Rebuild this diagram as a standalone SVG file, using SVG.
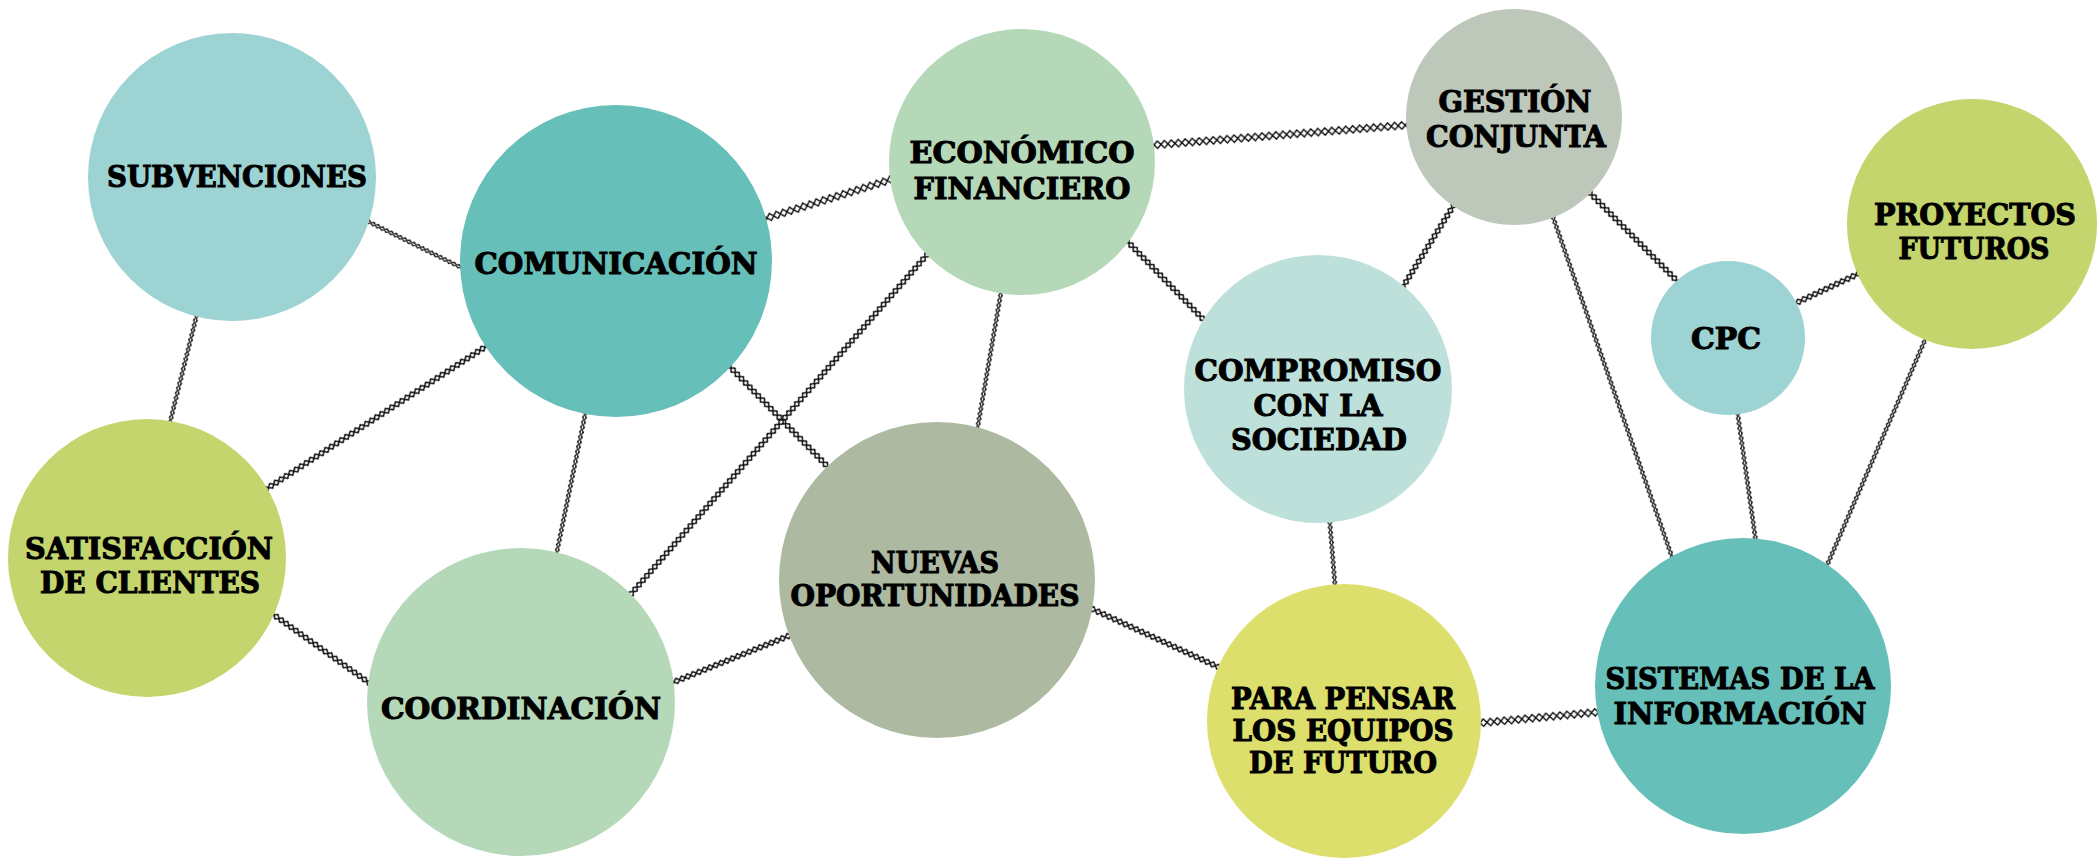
<svg xmlns="http://www.w3.org/2000/svg" width="2098" height="859" viewBox="0 0 2098 859">
<style>
.lbl{font-family:"DejaVu Serif","Liberation Serif",serif;font-weight:bold;font-size:30px;fill:#000;stroke:#000;stroke-width:1.1px;text-anchor:middle}
.c1{fill:#9dd3d2}.c2{fill:#67bfb9}.c3{fill:#b5d9b8}.c4{fill:#bdc8bb}.c5{fill:#c3d56c}.c6{fill:#bde1da}.c7{fill:#aeb9a1}.c8{fill:#dcdf6c}
</style>
<defs>
<pattern id="chS" patternUnits="userSpaceOnUse" x="0" y="-2.5" width="5" height="5"><path d="M0,2.5 L2.5,0.6 L5,2.5 L2.5,4.4 Z" fill="#fff" stroke="#000" stroke-width="1.2"/></pattern>
<pattern id="chM" patternUnits="userSpaceOnUse" x="0" y="-3.5" width="6" height="7"><path d="M0,3.5 L3,0.7 L6,3.5 L3,6.3 Z" fill="#fff" stroke="#000" stroke-width="1.3"/></pattern>
<pattern id="chL" patternUnits="userSpaceOnUse" x="0" y="-4.5" width="7" height="9"><path d="M0,4.5 L3.5,0.8 L7,4.5 L3.5,8.2 Z" fill="#fff" stroke="#000" stroke-width="1.3"/></pattern>
</defs>
<rect width="2098" height="859" fill="#fff"/>
<g id="connectors">
<g transform="translate(371 223) rotate(26.3)"><rect x="-6" y="-2.5" width="113.5" height="5" fill="url(#chS)"/></g>
<g transform="translate(196 318) rotate(104)"><rect x="-6" y="-2.5" width="119.2" height="5" fill="url(#chS)"/></g>
<g transform="translate(767 218) rotate(-17.2)"><rect x="-6" y="-4.5" width="140.7" height="9" fill="url(#chL)"/></g>
<g transform="translate(485 347) rotate(147)"><rect x="-6" y="-3.5" width="270.8" height="7" fill="url(#chM)"/></g>
<g transform="translate(585 415) rotate(101.6)"><rect x="-6" y="-2.5" width="151.8" height="5" fill="url(#chS)"/></g>
<g transform="translate(731 368) rotate(45.6)"><rect x="-6" y="-3.5" width="147.8" height="7" fill="url(#chM)"/></g>
<g transform="translate(925 257) rotate(131.1)"><rect x="-6" y="-3.5" width="457.8" height="7" fill="url(#chM)"/></g>
<g transform="translate(1000 298) rotate(99.8)"><rect x="-6" y="-2.5" width="140.9" height="5" fill="url(#chS)"/></g>
<g transform="translate(1154 145) rotate(-4.5)"><rect x="-6" y="-4.5" width="265.8" height="9" fill="url(#chL)"/></g>
<g transform="translate(1129 243) rotate(45.8)"><rect x="-6" y="-3.5" width="119.5" height="7" fill="url(#chM)"/></g>
<g transform="translate(1452 208) rotate(121.9)"><rect x="-6" y="-3.5" width="102.7" height="7" fill="url(#chM)"/></g>
<g transform="translate(1592 195) rotate(45.3)"><rect x="-6" y="-3.5" width="131.5" height="7" fill="url(#chM)"/></g>
<g transform="translate(1554 220) rotate(70.7)"><rect x="-6" y="-2.5" width="366.8" height="5" fill="url(#chS)"/></g>
<g transform="translate(1796 303) rotate(-25.1)"><rect x="-6" y="-3.5" width="82.7" height="7" fill="url(#chM)"/></g>
<g transform="translate(1738 416) rotate(81.9)"><rect x="-6" y="-2.5" width="133.2" height="5" fill="url(#chS)"/></g>
<g transform="translate(1925 340) rotate(113.5)"><rect x="-6" y="-2.5" width="255.2" height="5" fill="url(#chS)"/></g>
<g transform="translate(1330 525) rotate(85.2)"><rect x="-6" y="-2.5" width="71.2" height="5" fill="url(#chS)"/></g>
<g transform="translate(1090 608) rotate(24.7)"><rect x="-6" y="-3.5" width="152.9" height="7" fill="url(#chM)"/></g>
<g transform="translate(1480 723) rotate(-5.3)"><rect x="-6" y="-4.5" width="131.5" height="9" fill="url(#chL)"/></g>
<g transform="translate(274 615) rotate(35.5)"><rect x="-6" y="-3.5" width="127.4" height="7" fill="url(#chM)"/></g>
<g transform="translate(674 682) rotate(-21.9)"><rect x="-6" y="-3.5" width="138.1" height="7" fill="url(#chM)"/></g>
</g>
<g id="n-subvenciones"><circle class="c1" cx="232" cy="177" r="144"/><text class="lbl" x="237" y="187" textLength="260" lengthAdjust="spacingAndGlyphs">SUBVENCIONES</text></g>
<g id="n-comunicacion"><circle class="c2" cx="616" cy="261" r="156"/><text class="lbl" x="616" y="274" textLength="283" lengthAdjust="spacingAndGlyphs">COMUNICACIÓN</text></g>
<g id="n-economico"><circle class="c3" cx="1022" cy="162" r="133"/><text class="lbl" x="1022" y="163" textLength="225" lengthAdjust="spacingAndGlyphs">ECONÓMICO</text><text class="lbl" x="1022" y="199" textLength="217" lengthAdjust="spacingAndGlyphs">FINANCIERO</text></g>
<g id="n-gestion"><circle class="c4" cx="1514" cy="117" r="108"/><text class="lbl" x="1515" y="112" textLength="153" lengthAdjust="spacingAndGlyphs">GESTIÓN</text><text class="lbl" x="1516" y="147" textLength="180" lengthAdjust="spacingAndGlyphs">CONJUNTA</text></g>
<g id="n-proyectos"><circle class="c5" cx="1972" cy="224" r="125"/><text class="lbl" x="1975" y="225" textLength="202" lengthAdjust="spacingAndGlyphs">PROYECTOS</text><text class="lbl" x="1974" y="259" textLength="151" lengthAdjust="spacingAndGlyphs">FUTUROS</text></g>
<g id="n-cpc"><circle class="c1" cx="1728" cy="338" r="77"/><text class="lbl" x="1726" y="349" textLength="70" lengthAdjust="spacingAndGlyphs">CPC</text></g>
<g id="n-compromiso"><circle class="c6" cx="1318" cy="389" r="134"/><text class="lbl" x="1318" y="381" textLength="247" lengthAdjust="spacingAndGlyphs">COMPROMISO</text><text class="lbl" x="1318" y="416" textLength="129" lengthAdjust="spacingAndGlyphs">CON LA</text><text class="lbl" x="1319" y="450" textLength="176" lengthAdjust="spacingAndGlyphs">SOCIEDAD</text></g>
<g id="n-satisfaccion"><circle class="c5" cx="147" cy="558" r="139"/><text class="lbl" x="149" y="559" textLength="248" lengthAdjust="spacingAndGlyphs">SATISFACCIÓN</text><text class="lbl" x="150" y="593" textLength="220" lengthAdjust="spacingAndGlyphs">DE CLIENTES</text></g>
<g id="n-coordinacion"><circle class="c3" cx="521" cy="702" r="154"/><text class="lbl" x="521" y="719" textLength="280" lengthAdjust="spacingAndGlyphs">COORDINACIÓN</text></g>
<g id="n-nuevas"><circle class="c7" cx="937" cy="580" r="158"/><text class="lbl" x="935" y="573" textLength="128" lengthAdjust="spacingAndGlyphs">NUEVAS</text><text class="lbl" x="935" y="606" textLength="289" lengthAdjust="spacingAndGlyphs">OPORTUNIDADES</text></g>
<g id="n-parapensar"><circle class="c8" cx="1344" cy="721" r="137"/><text class="lbl" x="1343" y="709" textLength="224" lengthAdjust="spacingAndGlyphs">PARA PENSAR</text><text class="lbl" x="1343" y="741" textLength="221" lengthAdjust="spacingAndGlyphs">LOS EQUIPOS</text><text class="lbl" x="1343" y="773" textLength="188" lengthAdjust="spacingAndGlyphs">DE FUTURO</text></g>
<g id="n-sistemas"><circle class="c2" cx="1743" cy="686" r="148"/><text class="lbl" x="1740" y="689" textLength="269" lengthAdjust="spacingAndGlyphs">SISTEMAS DE LA</text><text class="lbl" x="1740" y="724" textLength="253" lengthAdjust="spacingAndGlyphs">INFORMACIÓN</text></g>
</svg>
